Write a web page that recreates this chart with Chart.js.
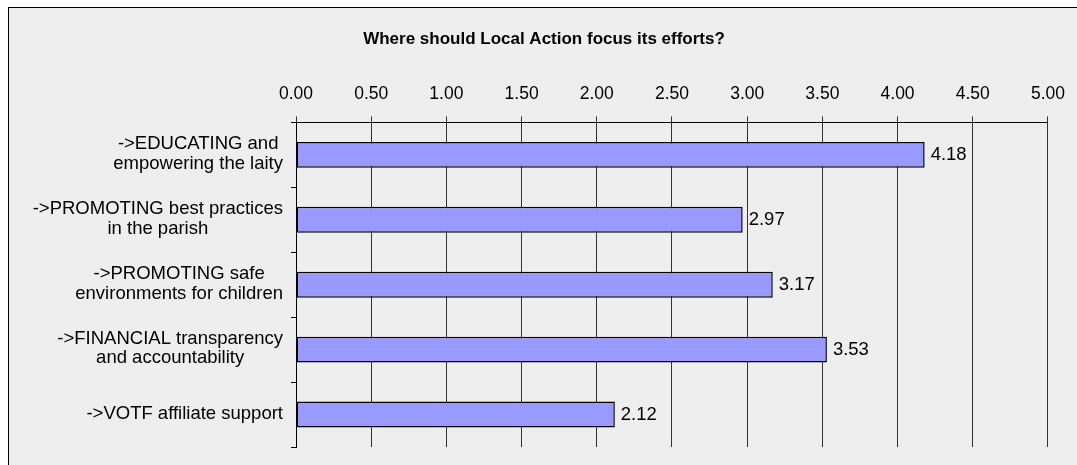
<!DOCTYPE html>
<html>
<head>
<meta charset="utf-8">
<script src="https://cdn.jsdelivr.net/npm/chart.js@4/dist/chart.umd.min.js"></script>
<style>
  html, body { margin: 0; padding: 0; background: #ffffff; width: 1077px; height: 465px; overflow: hidden; }
  #frame { position: absolute; left: 8px; top: 7px; width: 1077px; height: 465px;
           border-left: 1px solid #000; border-top: 1px solid #000; background: #eeeeee; }
  #wrap { position: absolute; left: 0; top: 0; width: 1077px; height: 465px; }
</style>
</head>
<body>
<div id="frame"></div>
<div id="wrap"><canvas id="c" width="1077" height="465"></canvas></div>
<script>
const chartTitle = "Where should Local Action focus its efforts?";
const categories = [
  ["->EDUCATING and", "empowering the laity"],
  ["->PROMOTING best practices", "in the parish"],
  ["->PROMOTING safe", "environments for children"],
  ["->FINANCIAL transparency", "and accountability"],
  ["->VOTF affiliate support"]
];
const values = [4.18, 2.97, 3.17, 3.53, 2.12];
const axisMin = 0, axisMax = 5, axisStep = 0.5;

const FONT = "'Liberation Sans', Arial, sans-serif";

const yLabelsPlugin = {
  id: 'yLabels',
  afterDraw(chart) {
    const ctx = chart.ctx;
    const ys = chart.scales.y;
    const area = chart.chartArea;
    ctx.save();
    ctx.font = "18.5px " + FONT;
    ctx.fillStyle = "#000";
    ctx.textAlign = "center";
    ctx.textBaseline = "middle";
    const lineH = 19.5;
    categories.forEach((lines, i) => {
      const y = ys.getPixelForValue(i);
      const w = Math.max(...lines.map(l => ctx.measureText(l).width));
      const right = area.left - 13;
      const cx = right - w / 2;
      const y0 = y - (lines.length - 1) * lineH / 2 - 1;
      lines.forEach((l, k) => ctx.fillText(l, cx, y0 + k * lineH));
    });
    ctx.restore();
  }
};

const valueLabelsPlugin = {
  id: 'valueLabels',
  afterDatasetsDraw(chart) {
    const ctx = chart.ctx;
    const meta = chart.getDatasetMeta(0);
    ctx.save();
    ctx.font = "18.5px " + FONT;
    ctx.fillStyle = "#000";
    ctx.textAlign = "left";
    ctx.textBaseline = "middle";
    meta.data.forEach((bar, i) => {
      ctx.fillText(values[i].toFixed(2), bar.x + 6, bar.y);
    });
    ctx.restore();
  }
};

new Chart(document.getElementById('c'), {
  type: 'bar',
  data: {
    labels: categories,
    datasets: [{
      data: values,
      backgroundColor: '#9999ff',
      borderColor: '#000000',
      borderWidth: 1.5,
      borderSkipped: false,
      barPercentage: 0.4,
      categoryPercentage: 1.0
    }]
  },
  options: {
    indexAxis: 'y',
    responsive: false,
    animation: false,
    layout: { padding: { top: 29, left: 38, right: 27, bottom: 18 } },
    plugins: {
      legend: { display: false },
      tooltip: { enabled: false },
      title: {
        display: true,
        text: chartTitle,
        color: '#000',
        font: { family: FONT, size: 17, weight: 'bold' },
        padding: { top: 0, bottom: 22 }
      }
    },
    scales: {
      x: {
        position: 'top',
        min: axisMin,
        max: axisMax,
        ticks: {
          stepSize: axisStep,
          color: '#000',
          padding: 12,
          font: { family: FONT, size: 17.5 },
          callback: v => Number(v).toFixed(2)
        },
        grid: { color: '#333', lineWidth: 1, tickLength: 6, drawTicks: true },
        border: { display: true, color: '#000', width: 1 }
      },
      y: {
        afterFit(scale) { scale.width = 296 - 38; },
        ticks: { display: false },
        grid: { drawOnChartArea: false, offset: true, tickLength: 5, color: '#000' },
        border: { display: true, color: '#000', width: 1 }
      }
    }
  },
  plugins: [yLabelsPlugin, valueLabelsPlugin]
});
</script>
</body>
</html>
